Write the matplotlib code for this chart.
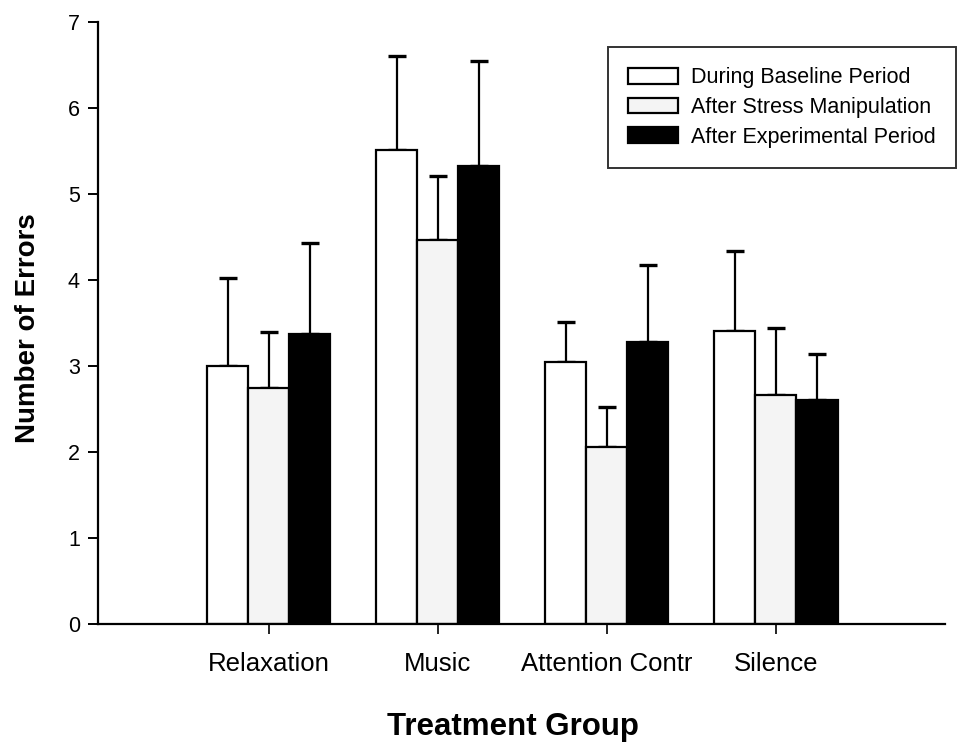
import matplotlib
matplotlib.use("Agg")
import matplotlib.pyplot as plt
import numpy as np

plt.rcParams['font.family'] = ['Liberation Sans', 'DejaVu Sans']

groups = ['Relaxation', 'Music', 'Attention Contr', 'Silence']
series = ['During Baseline Period', 'After Stress Manipulation', 'After Experimental Period']
baseline = [3.00, 5.51, 3.05, 3.41]
stress = [2.75, 4.47, 2.06, 2.66]
experimental = [3.37, 5.33, 3.28, 2.60]
baseline_err = [1.02, 1.10, 0.46, 0.93]
stress_err = [0.65, 0.74, 0.46, 0.78]
experimental_err = [1.06, 1.22, 0.89, 0.54]

fig = plt.figure(figsize=(9.68, 7.44), dpi=100)
ax = fig.add_axes([98 / 968, 120 / 744, (945 - 98) / 968, (624 - 22) / 744])

x = np.arange(len(groups))
width = 0.243
fills = ['white', '#f4f4f4', 'black']
values = [baseline, stress, experimental]
errors = [baseline_err, stress_err, experimental_err]

for i, (vals, errs, fc, name) in enumerate(zip(values, errors, fills, series)):
    pos = x + (i - 1) * width
    ax.bar(pos, vals, width, color=fc, edgecolor='black', linewidth=1.6,
           label=name, zorder=2)
    ax.errorbar(pos, vals, yerr=[np.zeros(len(vals)), errs], fmt='none',
                ecolor='black', elinewidth=1.6, capsize=6.5, capthick=2.4, zorder=1)

ax.set_xlim(-1.01, 4.0)
ax.set_ylim(0, 7)
ax.set_yticks(range(8))
ax.set_xticks(x)
ax.set_xticklabels(groups, fontsize=18.5)
ax.tick_params(axis='y', direction='out', length=7, width=1.4, pad=6, labelsize=15.5)
ax.tick_params(axis='x', direction='out', length=7, width=1.2, pad=13)
for s in ['top', 'right']:
    ax.spines[s].set_visible(False)
for s in ['left', 'bottom']:
    ax.spines[s].set_linewidth(1.6)

fig.text(28 / 968, 1 - 328 / 744, 'Number of Errors', rotation=90, ha='center',
         va='center', fontsize=20, fontweight='bold')
fig.text(513 / 968, 1 - 735 / 744, 'Treatment Group', ha='center', va='baseline',
         fontsize=22.5, fontweight='bold')

leg = ax.legend(loc='upper left', bbox_to_anchor=(608 / 968, 1 - 47 / 744),
                bbox_transform=fig.transFigure, fontsize=15.5, frameon=True,
                fancybox=False, edgecolor='black', handlelength=2.3,
                handleheight=0.75, handletextpad=0.6, labelspacing=0.4,
                borderpad=0.95, borderaxespad=0)
leg.get_frame().set_linewidth(1.4)

fig.savefig('out.png', dpi=100)
